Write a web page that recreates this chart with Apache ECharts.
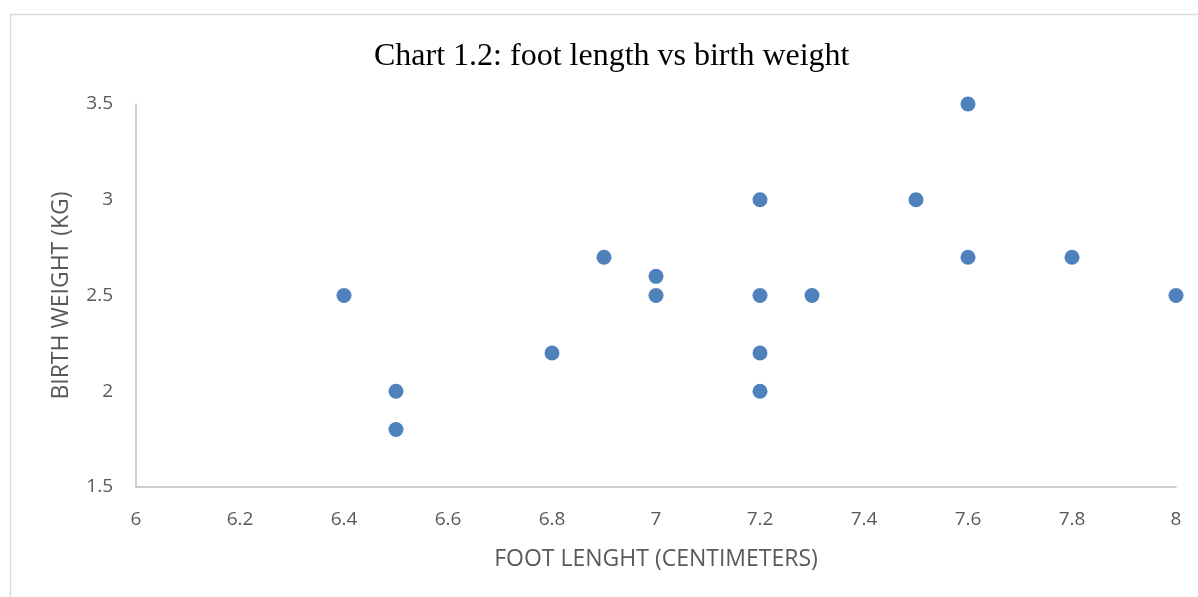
<!DOCTYPE html>
<html><head><meta charset="utf-8">
<script src="https://cdn.jsdelivr.net/npm/echarts@6/dist/echarts.min.js"></script>
<style>html,body{margin:0;padding:0;background:#fff}#c{width:1198px;height:597px}</style>
</head><body><div id="c"></div>
<script>
const footLength = [6.4, 6.5, 6.5, 6.8, 6.9, 7.0, 7.0, 7.2, 7.2, 7.2, 7.2, 7.3, 7.5, 7.6, 7.6, 7.8, 8.0];
const birthWeight = [2.5, 2.0, 1.8, 2.2, 2.7, 2.6, 2.5, 3.0, 2.5, 2.2, 2.0, 2.5, 3.0, 3.5, 2.7, 2.7, 2.5];
const title = 'Chart 1.2: foot length vs birth weight';
const xName = 'FOOT LENGHT (CENTIMETERS)';
const yName = 'BIRTH WEIGHT (KG)';
const pts = footLength.map((x, i) => [x, birthWeight[i]]);
const chart = echarts.init(document.getElementById('c'), null, {renderer: 'canvas'});
const font = 'Open Sans, Liberation Sans, sans-serif';
chart.setOption({
  animation: false,
  graphic: [{type: 'rect', shape: {x: 10.5, y: 14.5, width: 1300, height: 700}, style: {fill: 'none', stroke: '#d9d9d9', lineWidth: 1.5}, z: -1}],
  title: {text: title, left: 374, top: 41, itemGap: 0, padding: 0,
    textStyle: {fontFamily: 'Liberation Serif, Times New Roman, serif', fontSize: 32, fontWeight: 'normal', color: '#000'}},
  grid: {left: 136, right: 22, top: 104, bottom: 110},
  xAxis: {type: 'value', min: 6, max: 8, interval: 0.2,
    name: xName, nameLocation: 'middle', nameGap: 61,
    nameTextStyle: {fontFamily: font, fontSize: 23, color: '#595959'},
    axisLine: {show: true, lineStyle: {color: '#bfbfbf', width: 1.5}},
    axisTick: {show: false}, splitLine: {show: false},
    axisLabel: {fontFamily: font, fontSize: 19, color: '#595959', margin: 23,
      formatter: v => String(Math.round(v * 10) / 10)}},
  yAxis: {type: 'value', min: 1.5, max: 3.5, interval: 0.5,
    name: yName, nameLocation: 'middle', nameGap: 63,
    nameTextStyle: {fontFamily: font, fontSize: 23, color: '#595959'},
    axisLine: {show: true, lineStyle: {color: '#bfbfbf', width: 1.5}},
    axisTick: {show: false}, splitLine: {show: false},
    axisLabel: {fontFamily: font, fontSize: 19, color: '#595959', margin: 23,
      formatter: v => String(Math.round(v * 10) / 10)}},
  series: [{type: 'scatter', data: pts, symbolSize: 15,
    itemStyle: {color: '#4f81bd', opacity: 1}}]
});
</script></body></html>
